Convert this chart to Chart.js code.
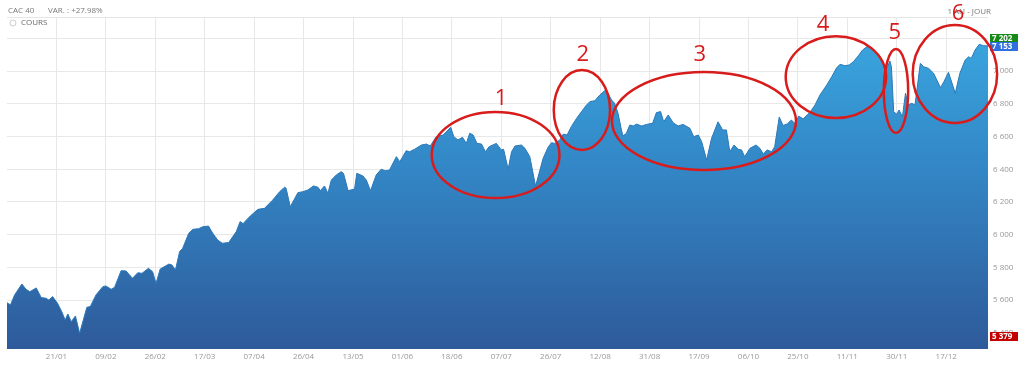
<!DOCTYPE html>
<html lang="fr">
<head>
<meta charset="UTF-8">
<title>CAC 40</title>
<script src="https://cdn.jsdelivr.net/npm/chart.js@4"></script>
<style>
  body { margin: 0; background: #fff; }
  #wrap { position: relative; width: 1024px; height: 367px; }
</style>
</head>
<body>
<div id="wrap"><canvas id="cacChart"></canvas></div>
<script>
// trading day index (0 = 04/01) and closing level
const days = [0, 0.9, 2, 3.9, 5, 6, 7.7, 9, 10.3, 11, 12, 13.3, 14.4, 15.3, 16, 16.9, 18, 19.1, 21, 21.9,
  23.4, 25.2, 26, 27.4, 28.3, 30, 31.3, 33, 34.4, 35.5, 37.2, 38.3, 39.2, 40.3, 42.6, 43.4, 44.3, 45.4, 46.2, 47.8,
  48.9, 50.4, 51.5, 53, 54.1, 55.4, 56.6, 58.3, 60.3, 61.3, 62.1, 64, 66, 67.7, 69.9, 71.7, 73, 73.4, 74.5, 76.5,
  77.8, 79.1, 80.6, 81.8, 82.4, 83.5, 84.4, 85.3, 86.6, 87.9, 88.5, 89.7, 91.4, 92, 93.6, 94.5, 95.6, 97.1, 98.4, 99.5,
  100.6, 102.4, 103.3, 105, 105.9, 107.2, 109, 110.3, 111.3, 112.9, 114.7, 116.7, 117.5, 118.6, 119.8, 120.8, 121.7, 122.6, 123.6, 124.8,
  125.8, 126.8, 128.7, 130, 130.6, 131.8, 132.7, 133.6, 135.3, 136.2, 137.5, 139, 139.7, 141, 142.3, 143.2, 144.1, 145.4, 146.3, 147.3,
  148.4, 149.8, 151.1, 152.4, 153.3, 154.6, 155.9, 157.2, 157.8, 159, 159.8, 160.7, 161.6, 162, 162.9, 163.8, 164.7, 165.6, 166.9, 168.2,
  169.8, 170.8, 171.9, 172.7, 173.9, 175.2, 176.5, 177.8, 179.6, 180.6, 181.8, 182.7, 184, 185.3, 187, 188.2, 189.2, 190.1, 191.2, 192.3,
  193.2, 194, 195.4, 197, 198, 198.9, 199.9, 201.1, 201.9, 203.1, 204.1, 205.2, 206.3, 207.2, 208.2, 209.4, 211.2, 212.5, 213.8, 215.6,
  216.9, 218.2, 219.1, 220.4, 221.5, 222.6, 223.9, 225, 226.1, 227.4, 228.3, 229.6, 230.6, 231.6, 232.2, 232.6, 233.2, 234, 234.6, 235.5,
  236.3, 237, 237.9, 238.8, 240.2, 241.1, 242.4, 243.7, 245.5, 246.4, 247.6, 249.4, 250.6, 252, 252.9, 253.6, 254.6, 255.7, 256.8, 258];

const closes = [5585, 5571, 5632, 5699, 5667, 5652, 5675, 5616, 5612, 5601, 5622, 5581, 5530, 5479, 5516, 5469, 5504, 5398, 5557, 5561,
  5632, 5683, 5687, 5667, 5679, 5780, 5779, 5734, 5768, 5764, 5795, 5774, 5703, 5791, 5821, 5815, 5785, 5897, 5917, 6009,
  6033, 6037, 6049, 6053, 6009, 5968, 5948, 5952, 6019, 6080, 6068, 6115, 6155, 6161, 6212, 6263, 6290, 6284, 6171, 6257,
  6263, 6273, 6298, 6290, 6269, 6298, 6253, 6334, 6365, 6385, 6375, 6269, 6279, 6375, 6359, 6334, 6269, 6365, 6400, 6391,
  6395, 6477, 6446, 6513, 6507, 6522, 6548, 6554, 6542, 6599, 6609, 6656, 6599, 6579, 6595, 6558, 6620, 6609, 6558, 6554,
  6507, 6538, 6558, 6518, 6522, 6400, 6507, 6542, 6548, 6528, 6477, 6298, 6355, 6467, 6534, 6562, 6558, 6579, 6615, 6609,
  6660, 6711, 6752, 6792, 6813, 6819, 6853, 6880, 6874, 6823, 6803, 6742, 6640, 6603, 6620, 6670, 6664, 6676, 6664, 6674,
  6681, 6746, 6752, 6690, 6731, 6684, 6664, 6674, 6650, 6599, 6609, 6568, 6456, 6589, 6690, 6640, 6640, 6507, 6548, 6522,
  6518, 6477, 6528, 6548, 6528, 6493, 6518, 6507, 6538, 6719, 6667, 6677, 6701, 6680, 6724, 6708, 6748, 6792, 6853, 6915,
  6965, 7020, 7041, 7032, 7037, 7057, 7093, 7128, 7148, 7139, 7122, 7087, 7037, 7026, 7061, 7026, 6751, 6736, 6762, 6721,
  6864, 6792, 6803, 6792, 7047, 7026, 7016, 6986, 6898, 6935, 6992, 6864, 6986, 7067, 7087, 7077, 7128, 7163, 7155, 7153];

const tickDays = [13, 26, 39, 52, 65, 78, 91, 104, 117, 130, 143, 156, 169, 182, 195, 208, 221, 234, 247];
const tickLabels = ['21/01', '09/02', '26/02', '17/03', '07/04', '26/04', '13/05', '01/06', '18/06', '07/07',
  '26/07', '12/08', '31/08', '17/09', '06/10', '25/10', '11/11', '30/11', '17/12'];
const levelTicks = [5400, 5600, 5800, 6000, 6200, 6400, 6600, 6800, 7000, 7200];

// high / last / low tags on the right
const tagValues = [7202, 7153, 5379];
const tagColors = ['#168a16', '#2f6fe0', '#c40000'];

// hand-drawn red circles: centre and radii in chart units
const noteText = ['1', '2', '3', '4', '5', '6'];
const noteDay = [128.5, 151.2, 183.3, 218, 233.8, 249.3];
const noteVal = [6487, 6762, 6695, 6963, 6878, 6982];
const noteRx = [16.8, 7.4, 24.2, 13.2, 3.2, 11.1];
const noteRy = [263, 244, 299, 250, 256, 299];
const noteLabelDay = [129.9, 151.4, 182.2, 214.6, 233.5, 250.1];
const noteLabelVal = [6829, 7098, 7098, 7281, 7232, 7348];

const fmt = v => String(v).replace(/\B(?=(\d{3})+(?!\d))/g, ' ');
const FONT = '"Open Sans", sans-serif';

const overlay = {
  id: 'overlay',
  beforeDatasetsDraw(chart) {
    const { ctx, chartArea } = chart;
    ctx.save();
    ctx.strokeStyle = '#e6e6e6';
    ctx.lineWidth = 1;
    ctx.beginPath();
    ctx.moveTo(chartArea.left, chartArea.top + 0.5);
    ctx.lineTo(chartArea.right, chartArea.top + 0.5);
    ctx.stroke();
    ctx.restore();
  },
  afterDraw(chart) {
    const { ctx, chartArea, scales: { x, y } } = chart;
    ctx.save();
    // header
    ctx.fillStyle = '#777';
    ctx.font = '8px ' + FONT;
    ctx.textBaseline = 'middle';
    ctx.textAlign = 'left';
    ctx.fillText('CAC 40', 8, 11);
    ctx.fillText('VAR. : +27.98%', 48, 11);
    ctx.textAlign = 'right';
    ctx.fillText('1 AN - JOUR', 991, 12);
    // legend
    ctx.strokeStyle = '#ccc';
    ctx.lineWidth = 1;
    ctx.beginPath();
    ctx.arc(13, 23, 3, 0, Math.PI * 2);
    ctx.stroke();
    ctx.textAlign = 'left';
    ctx.fillStyle = '#666';
    ctx.fillText('COURS', 21, 23);

    // value tags
    ctx.font = 'bold 8px ' + FONT;
    tagValues.forEach((v, i) => {
      const py = Math.round(y.getPixelForValue(v));
      ctx.fillStyle = tagColors[i];
      ctx.fillRect(chartArea.right + 2, py - 4, 28, 9);
      ctx.fillStyle = '#fff';
      ctx.fillText(fmt(v), chartArea.right + 4, py + 0.5);
    });

    // red annotations
    ctx.strokeStyle = '#d81c1c';
    ctx.fillStyle = '#d81c1c';
    ctx.lineWidth = 2.5;
    ctx.font = '22px ' + FONT;
    ctx.textAlign = 'center';
    noteText.forEach((t, i) => {
      const cx = x.getPixelForValue(noteDay[i]);
      const cy = y.getPixelForValue(noteVal[i]);
      const rx = Math.abs(x.getPixelForValue(noteDay[i] + noteRx[i]) - cx);
      const ry = Math.abs(y.getPixelForValue(noteVal[i] + noteRy[i]) - cy);
      ctx.beginPath();
      ctx.ellipse(cx, cy, rx, ry, 0, 0, Math.PI * 2);
      ctx.stroke();
      ctx.fillText(t, x.getPixelForValue(noteLabelDay[i]), y.getPixelForValue(noteLabelVal[i]));
    });
    ctx.restore();
  }
};

const ctx = document.getElementById('cacChart').getContext('2d');
const chart = new Chart(ctx, {
  type: 'line',
  data: {
    datasets: [{
      label: 'COURS',
      data: days.map((d, i) => ({ x: d, y: closes[i] })),
      borderColor: '#2b78b8',
      borderWidth: 1,
      pointRadius: 0,
      tension: 0,
      fill: 'start',
      backgroundColor(context) {
        const { chartArea } = context.chart;
        if (!chartArea) return '#3280c0';
        const g = context.chart.ctx.createLinearGradient(0, chartArea.top, 0, chartArea.bottom);
        g.addColorStop(0, '#3aaae2');
        g.addColorStop(0.45, '#3387c6');
        g.addColorStop(1, '#2e5a9a');
        return g;
      }
    }]
  },
  options: {
    responsive: true,
    maintainAspectRatio: false,
    animation: false,
    layout: { padding: { left: 7, top: 17, right: 0, bottom: 0 } },
    plugins: {
      legend: { display: false },
      tooltip: { enabled: false }
    },
    scales: {
      x: {
        type: 'linear',
        min: 0,
        max: 258,
        afterBuildTicks: s => { s.ticks = tickDays.map(v => ({ value: v })); },
        afterFit: s => { s.height = 18; },
        grid: { color: '#e8e8e8', drawTicks: false },
        border: { display: false },
        ticks: {
          autoSkip: false,
          maxRotation: 0,
          padding: 3,
          color: '#999',
          font: { family: FONT, size: 8 },
          callback: v => tickLabels[tickDays.indexOf(v)] || ''
        }
      },
      y: {
        position: 'right',
        min: 5302,
        max: 7330,
        afterBuildTicks: s => { s.ticks = levelTicks.map(v => ({ value: v })); },
        afterFit: s => { s.width = 36; },
        grid: { color: '#e8e8e8', drawTicks: false },
        border: { display: false },
        ticks: {
          autoSkip: false,
          padding: 5,
          color: '#999',
          font: { family: FONT, size: 8 },
          callback: v => fmt(v)
        }
      }
    }
  },
  plugins: [overlay]
});
</script>
</body>
</html>
